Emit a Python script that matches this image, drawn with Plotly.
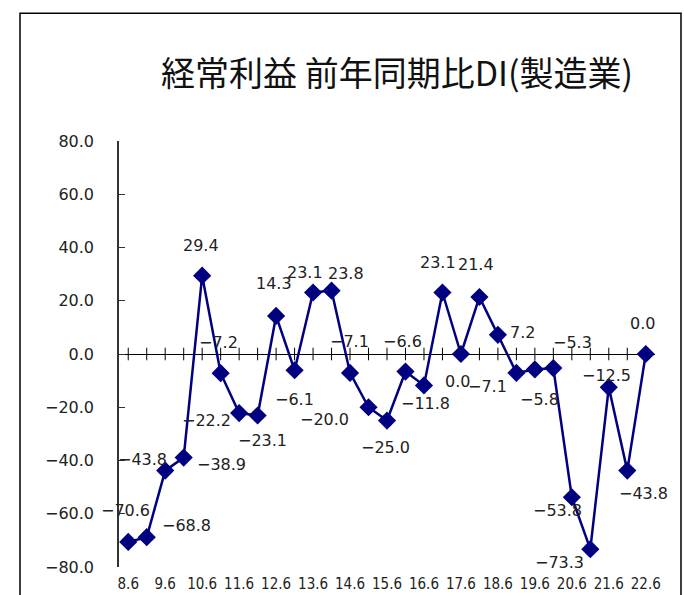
import plotly.graph_objects as go

# Half-year survey periods (fiscal year . month), June labels shown on the axis
periods = [
    "8.6", "8.12", "9.6", "9.12", "10.6", "10.12", "11.6", "11.12", "12.6", "12.12",
    "13.6", "13.12", "14.6", "14.12", "15.6", "15.12", "16.6", "16.12", "17.6", "17.12",
    "18.6", "18.12", "19.6", "19.12", "20.6", "20.12", "21.6", "21.12", "22.6",
]
di_values = [
    -70.6, -68.8, -43.8, -38.9, 29.4, -7.2, -22.2, -23.1, 14.3, -6.1,
    23.1, 23.8, -7.1, -20.0, -25.0, -6.6, -11.8, 23.1, 0.0, 21.4,
    7.2, -7.1, -5.8, -5.3, -53.8, -73.3, -12.5, -43.8, 0.0,
]
axis_labels = periods[::2]
y_ticks = [-80, -60, -40, -20, 0, 20, 40, 60, 80]

# Pixel offsets of each value label relative to its marker (dx right, dy down)
label_offsets = [
    (-3, -31), (40, -12), (-23, -11), (38, 7), (-1, -30), (-2, -31), (-33, 7),
    (5, 25), (-2, -32), (0, 29), (-8, -20), (14, -17), (-1, -31), (-44, 12),
    (-2, 27), (-3, -30), (2, 18), (-4, -30), (-3, 27), (-3, -33), (25, -2),
    (-29, 14), (5, 30), (19, -26), (-14, 13), (-31, 13), (-2, -12), (16, 23),
    (-3, -31),
]

FONT = "DejaVu Sans, sans-serif"
NARROW = "Liberation Sans Narrow, DejaVu Sans Condensed, sans-serif"
CJK = "Noto Sans CJK JP, Noto Sans, sans-serif"
NAVY = "#000080"


def fmt(v):
    s = f"{abs(v):.1f}"
    return ("\u2212" + s) if v < 0 else s


idx = list(range(len(periods)))

fig = go.Figure()

# Small cross ticks on the zero line, one per period
fig.add_trace(go.Scatter(
    x=idx, y=[0] * len(periods), mode="markers",
    marker=dict(symbol="line-ns", size=9, line=dict(width=1, color="black")),
    hoverinfo="skip", showlegend=False,
))

fig.add_trace(go.Scatter(
    x=idx, y=di_values, mode="lines+markers",
    line=dict(color=NAVY, width=2.5),
    marker=dict(symbol="diamond", size=14, color=NAVY),
    text=periods, hovertemplate="%{text}: %{y:.1f}<extra></extra>",
    showlegend=False,
))

for i, v, (dx, dy) in zip(idx, di_values, label_offsets):
    fig.add_annotation(
        x=i, y=v, text=fmt(v), showarrow=False,
        xshift=dx, yshift=-dy,
        font=dict(family=FONT, size=16, color="#222222"),
    )

# Outer frame of the chart
fig.add_shape(
    type="rect", xref="paper", yref="paper",
    x0=-0.1847, x1=1.0485, y0=-0.3, y1=1.300,
    line=dict(color="black", width=1.5), fillcolor="rgba(0,0,0,0)",
)

fig.update_layout(
    width=684, height=595,
    margin=dict(l=119, r=29, t=141, b=28),
    paper_bgcolor="white", plot_bgcolor="white",
    title=dict(
        text="経常利益 前年同期比DI(製造業)",
        x=397 / 684, xanchor="center", y=1 - 74 / 595, yanchor="middle",
        font=dict(family=CJK, size=34, color="#111111"),
    ),
    xaxis=dict(
        range=[-0.5, len(periods) - 0.5], automargin=False,
        tickvals=idx[::2], ticktext=axis_labels,
        showline=False, showgrid=False, zeroline=False, ticks="",
        ticklabelstandoff=6,
        tickfont=dict(family=NARROW, size=15, color="#222222"),
    ),
    yaxis=dict(
        range=[-80, 80], tickvals=y_ticks, tickformat=".1f", automargin=False,
        showline=True, linecolor="#333333", linewidth=1.5,
        ticks="inside", ticklen=6, tickcolor="#333333",
        showgrid=False, zeroline=True, zerolinecolor="black", zerolinewidth=1.2,
        ticklabelstandoff=20,
        tickfont=dict(family=FONT, size=16, color="#222222"),
    ),
)

fig.write_html("out.html")
